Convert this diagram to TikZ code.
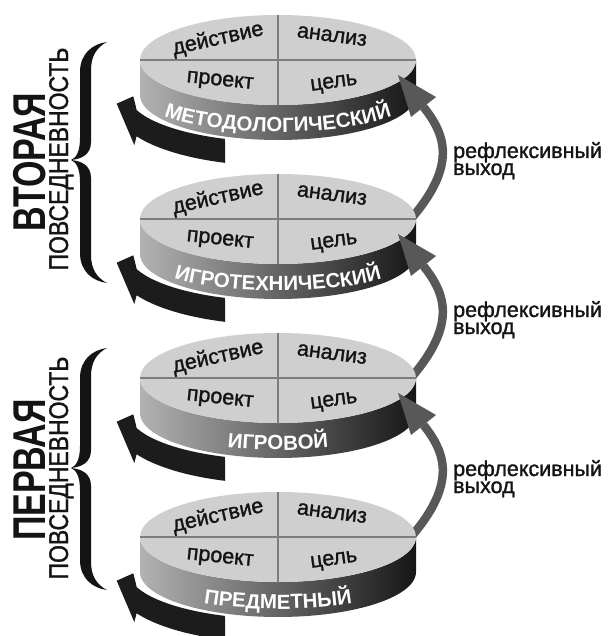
\documentclass[tikz,border=0pt]{standalone}
\usepackage{fontspec}
\setmainfont{Liberation Sans}
\newfontfamily\medfont{Liberation Sans}[FakeBold=1.3]
\usetikzlibrary{decorations.text}
\definecolor{facegray}{RGB}{207,207,207}
\definecolor{divgray}{RGB}{125,125,125}
\definecolor{bandL}{RGB}{178,178,178}
\definecolor{bandM}{RGB}{100,100,100}
\definecolor{bandR}{RGB}{22,22,22}
\definecolor{arrblack}{RGB}{28,28,28}
\definecolor{arrgray}{RGB}{88,88,88}
\definecolor{inkblack}{RGB}{20,20,20}
\newcommand\bandfont{\fontsize{20.5}{20}\selectfont\bfseries\color{white}}
\newcommand\discfont{\medfont\fontsize{21.5}{21}\selectfont}
\newcommand\reflfont{\medfont\fontsize{21.5}{17}\selectfont}
\tikzset{
  disctext/.style={font=\discfont, text=inkblack, inner sep=0pt},
  refltext/.style={font=\reflfont, text=inkblack, inner sep=0pt, anchor=base west},
  divline/.style={draw=divgray, line width=2.5pt},
}
\newcommand\drawdisc[3]{%
  \coordinate (#1c) at (278,#2);
  \shade[left color=bandL, right color=bandR, middle color=bandM]
    (140,#2) -- (140,#2+35)
    -- plot[domain=180:0,samples=60] ({278+138*cos(\x)},{#2+35+45*sin(\x)})
    -- (416,#2)
    -- plot[domain=0:180,samples=60] ({278+138*cos(\x)},{#2+45*sin(\x)}) -- cycle;
  \fill[facegray] (#1c) ellipse [x radius=138, y radius=45];
  \coordinate (#1l) at (140,#2);
  \coordinate (#1r) at (416,#2);
  \coordinate (#1t) at (278,#2-45);
  \coordinate (#1b) at (278,#2+45);
  \draw[divline] (#1l) -- (#1r);
  \draw[divline] (#1t) -- (#1b);
  \node[disctext, rotate=12.5] (#1q1) at (218,#2-21) {действие};
  \node[disctext, rotate=-7.5] (#1q2) at (332,#2-24) {анализ};
  \node[disctext, rotate=-6] (#1q3) at (220,#2+22) {проект};
  \node[disctext, rotate=8] (#1q4) at (334,#2+24) {цель};
  \path[decorate, decoration={text along path, text align=center, text={|\bandfont|#3}}]
    plot[domain=180:0,samples=80] ({278+138*cos(\x)},{#2+36+36*sin(\x)});
}
\newcommand\blackarrow[1]{%
  \fill[arrblack]
    plot[domain=110.7:160.4, samples=30] ({278+150*cos(\x)},{#1+34+48*sin(\x)})
    -- (133.3,#1+36.3) -- (116.7,#1+43.7) -- (134.3,#1+85) -- (136.7,#1+76)
    -- plot[domain=152:109.3, samples=30] ({278+160*cos(\x)},{#1+50+56*sin(\x)})
    -- cycle;
}
\newcommand\grayarrow[2]{%
  \coordinate (#1s) at (410,#2+160);
  \coordinate (#1e) at (423.5,#2+47);
  \draw[arrgray, line width=8.5pt] (#1s) .. controls (458,#2+105) and (445,#2+74) .. (#1e);
  \fill[arrgray] (398,#2+15) -- (411,#2+57) -- (436,#2+37) -- cycle;
}
\newcommand\mybrace[3]{%
  \fill[inkblack] (107,#1) .. controls (92,#1+2) and (80,#1+12) .. (80,#1+30)
    -- (80,#2-22) .. controls (80,#2-8) and (76,#2-2) .. (71,#2)
    .. controls (76,#2+2) and (80,#2+8) .. (80,#2+22)
    -- (80,#3-30) .. controls (80,#3-12) and (92,#3-2) .. (107,#3)
    .. controls (97,#3-5) and (91,#3-14) .. (91,#3-28)
    -- (91,#2+18) .. controls (91,#2+5) and (81,#2+1) .. (71,#2)
    .. controls (81,#2-1) and (91,#2-5) .. (91,#2-18)
    -- (91,#1+28) .. controls (91,#1+14) and (97,#1+5) .. (107,#1) -- cycle;
}
\begin{document}
\begin{tikzpicture}[x=1pt,y=-1pt]
\useasboundingbox (0,0) rectangle (611,636);
\clip (0,0) rectangle (611,636);
\fill[white] (0,0) rectangle (611,636);
\drawdisc{da}{60}{МЕТОДОЛОГИЧЕСКИЙ}
\blackarrow{60}
\grayarrow{ga}{60}
\drawdisc{db}{219}{ИГРОТЕХНИЧЕСКИЙ}
\blackarrow{219}
\grayarrow{gb}{219}
\drawdisc{dc}{378}{ИГРОВОЙ}
\blackarrow{378}
\grayarrow{gc}{378}
\drawdisc{dd}{537}{ПРЕДМЕТНЫЙ}
\blackarrow{537}
\node[refltext] (ra1) at (453,158) {рефлексивный};
\node[refltext] (ra2) at (453,175) {выход};
\node[refltext] (rb1) at (453,317) {рефлексивный};
\node[refltext] (rb2) at (453,334) {выход};
\node[refltext] (rc1) at (453,476) {рефлексивный};
\node[refltext] (rc2) at (453,493) {выход};
\mybrace{42}{160}{283}
\mybrace{348}{468}{590}
\node[rotate=90, anchor=base, inner sep=0pt, text=inkblack, font=\fontsize{46}{46}\selectfont\bfseries] (vt) at (45,162) {\scalebox{0.74}[1]{ВТОРАЯ}};
\node[rotate=90, anchor=base, inner sep=0pt, text=inkblack, font=\medfont\fontsize{27}{27}\selectfont] (pv1) at (68,159) {\scalebox{0.85}[1]{ПОВСЕДНЕВНОСТЬ}};
\node[rotate=90, anchor=base, inner sep=0pt, text=inkblack, font=\fontsize{46}{46}\selectfont\bfseries] (pe) at (45,470) {\scalebox{0.74}[1]{ПЕРВАЯ}};
\node[rotate=90, anchor=base, inner sep=0pt, text=inkblack, font=\medfont\fontsize{27}{27}\selectfont] (pv2) at (68,468) {\scalebox{0.85}[1]{ПОВСЕДНЕВНОСТЬ}};
\end{tikzpicture}
\end{document}
